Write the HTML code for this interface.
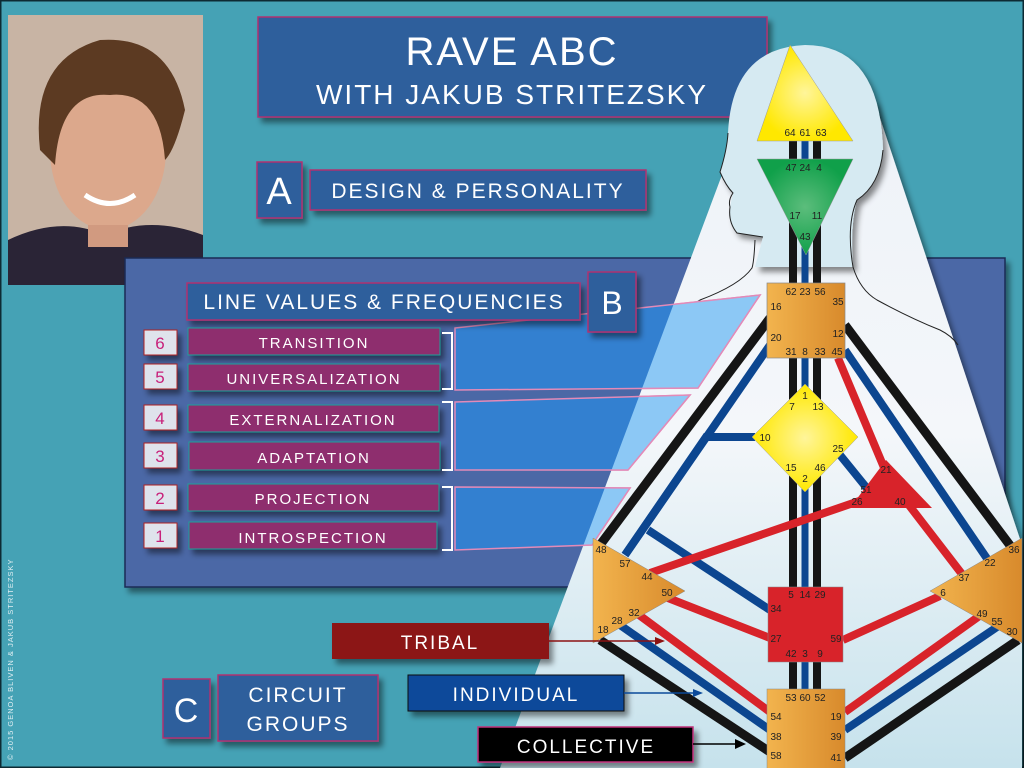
<!DOCTYPE html>
<html><head><meta charset="utf-8"><style>
html,body{margin:0;padding:0;background:#45a2b5;}
svg{display:block}
text{font-family:"Liberation Sans",sans-serif;}
</style></head><body>
<svg width="1024" height="768" viewBox="0 0 1024 768" xmlns="http://www.w3.org/2000/svg">
<defs>
<linearGradient id="bodyg" x1="0" y1="0" x2="0" y2="1"><stop offset="0" stop-color="#eef2f8"/><stop offset="0.5" stop-color="#f4f7fa"/><stop offset="1" stop-color="#c6e2ec"/></linearGradient>
<linearGradient id="org" x1="0" y1="0" x2="1" y2="0"><stop offset="0" stop-color="#f2b44e"/><stop offset="1" stop-color="#d88a2c"/></linearGradient>
<radialGradient id="yel"><stop offset="0" stop-color="#fff59a"/><stop offset="1" stop-color="#ffe800"/></radialGradient>
<radialGradient id="grn"><stop offset="0" stop-color="#5cbd7c"/><stop offset="1" stop-color="#10a04a"/></radialGradient>
<clipPath id="bodyclip"><polygon points="750,100 874,100 1022,545 1022,768 500,768"/></clipPath>
<filter id="sh" x="-10%" y="-10%" width="130%" height="140%"><feDropShadow dx="4" dy="5" stdDeviation="3" flood-color="#000" flood-opacity="0.45"/></filter>
</defs>
<rect width="1024" height="768" fill="#45a2b5"/>
<rect x="0.5" y="0.5" width="1023" height="767" fill="none" stroke="#0d2a33" stroke-width="2"/>

<!-- photo -->
<g>
<rect x="8" y="15" width="195" height="270" fill="#c8b4a4"/>
<path d="M8 240 Q60 215 105 235 Q150 215 203 235 L203 285 L8 285Z" fill="#2a2436"/>
<ellipse cx="108" cy="150" rx="58" ry="80" fill="#dca88c"/>
<path d="M40 150 Q30 60 100 40 Q170 35 185 110 Q175 150 165 160 Q160 90 110 95 Q60 90 55 165Z" fill="#5c3a22"/>
<rect x="88" y="225" width="40" height="22" fill="#d19a80"/>
<path d="M85 195 Q110 212 135 195" stroke="#fff" stroke-width="5" fill="none"/>
</g>

<!-- title -->
<g filter="url(#sh)">
<rect x="258" y="17" width="509" height="100" fill="#2d5e9c" stroke="#b03070" stroke-width="1.5"/>
</g>
<text x="512" y="65" text-anchor="middle" fill="#fff" font-size="40" letter-spacing="2">RAVE ABC</text>
<text x="512" y="104" text-anchor="middle" fill="#fff" font-size="28" letter-spacing="2">WITH JAKUB STRITEZSKY</text>

<g filter="url(#sh)">
<rect x="257" y="162" width="45" height="56" fill="#2d5e9c" stroke="#b03070" stroke-width="1.5"/>
<rect x="310" y="170" width="336" height="40" fill="#2d5e9c" stroke="#b03070" stroke-width="1.5"/>
</g>
<text x="279" y="204" text-anchor="middle" fill="#fff" font-size="38">A</text>
<text x="478" y="198" text-anchor="middle" fill="#fff" font-size="21" letter-spacing="2">DESIGN &amp; PERSONALITY</text>

<!-- big panel -->
<rect x="125" y="258" width="880" height="329" fill="#4b67a6" stroke="#1b2b55" stroke-width="1.5" filter="url(#sh)"/>

<!-- body silhouette -->
<polygon points="750,100 874,100 1022,545 1022,768 500,768" fill="url(#bodyg)" filter="url(#sh)"/>
<path d="M763,237 L737,233 Q728,222 730,207 L733,193 Q726,186 720,172 Q727,150 728,133 Q732,48 805,45 Q880,45 883,150 Q880,185 857,200 Q850,225 853,267 L755,267 Z" fill="#d6eaf2" filter="url(#sh)"/>
<g fill="none" stroke="#222" stroke-width="1">
<path d="M728,133 Q727,150 720,172 Q726,186 733,193 Q728,200 730,207 Q728,222 737,233 L763,237"/>
<path d="M755,240 Q754,262 752,268 Q740,285 700,300 Q670,318 650,333"/>
<path d="M883,150 Q880,185 857,200 Q846,225 853,267 Q860,290 877,300 Q910,318 940,330 Q952,336 958,345"/>
</g>

<!-- parallelograms -->
<g stroke="#e38ab8" stroke-width="1.5">
<polygon points="455,328 760,295 698,388 455,390" fill="#3380d0"/>
<polygon points="455,402 690,395 628,470 455,470" fill="#3380d0"/>
<polygon points="455,487 630,488 592,545 455,550" fill="#3380d0"/>
</g>
<g clip-path="url(#bodyclip)" stroke="#e38ab8" stroke-width="1.5" fill="#8cc8f5">
<polygon points="455,328 760,295 698,388 455,390"/>
<polygon points="455,402 690,395 628,470 455,470"/>
<polygon points="455,487 630,488 592,545 455,550"/>
</g>

<!-- channels -->
<g stroke-linecap="butt" fill="none">
<line x1="793" y1="140" x2="793" y2="700" stroke="#151515" stroke-width="8"/>
<line x1="817" y1="140" x2="817" y2="700" stroke="#151515" stroke-width="8"/>
<line x1="805" y1="140" x2="805" y2="700" stroke="#0c4690" stroke-width="7"/>
<line x1="770" y1="318" x2="600" y2="545" stroke="#151515" stroke-width="9"/>
<line x1="770" y1="345" x2="625" y2="555" stroke="#0c4690" stroke-width="8"/>
<polyline points="755,437 706,437 625,555" stroke="#0c4690" stroke-width="8"/>
<line x1="770" y1="610" x2="648" y2="530" stroke="#0c4690" stroke-width="8"/>
<line x1="845" y1="325" x2="1012" y2="548" stroke="#151515" stroke-width="9"/>
<line x1="845" y1="350" x2="988" y2="560" stroke="#0c4690" stroke-width="8"/>
<line x1="838" y1="358" x2="885" y2="470" stroke="#d8232a" stroke-width="8"/>
<line x1="840" y1="455" x2="870" y2="492" stroke="#0c4690" stroke-width="8"/>
<line x1="862" y1="500" x2="650" y2="573" stroke="#d8232a" stroke-width="8"/>
<line x1="905" y1="500" x2="965" y2="578" stroke="#d8232a" stroke-width="8"/>
<line x1="668" y1="598" x2="770" y2="638" stroke="#d8232a" stroke-width="8"/>
<line x1="940" y1="596" x2="843" y2="640" stroke="#d8232a" stroke-width="8"/>
<line x1="635" y1="612" x2="770" y2="712" stroke="#d8232a" stroke-width="8"/>
<line x1="620" y1="625" x2="770" y2="730" stroke="#0c4690" stroke-width="8"/>
<line x1="600" y1="640" x2="770" y2="752" stroke="#151515" stroke-width="9"/>
<line x1="985" y1="612" x2="845" y2="712" stroke="#d8232a" stroke-width="8"/>
<line x1="1000" y1="625" x2="845" y2="730" stroke="#0c4690" stroke-width="8"/>
<line x1="1018" y1="640" x2="845" y2="758" stroke="#151515" stroke-width="9"/>
</g>

<!-- centers -->
<g font-size="10" fill="#222" text-anchor="middle">
<polygon points="790,45 757,141 853,141" fill="url(#yel)" stroke="#999" stroke-width="0.5"/>
<text x="790" y="136">64</text><text x="805" y="136">61</text><text x="821" y="136">63</text>
<polygon points="757,159 853,159 806,255" fill="url(#grn)" stroke="#999" stroke-width="0.5"/>
<text x="791" y="171">47</text><text x="805" y="171">24</text><text x="819" y="171">4</text>
<text x="795" y="219">17</text><text x="817" y="219">11</text><text x="805" y="240">43</text>
<rect x="767" y="283" width="78" height="75" fill="url(#org)" stroke="#888" stroke-width="0.7"/>
<text x="791" y="295">62</text><text x="805" y="295">23</text><text x="820" y="295">56</text>
<text x="776" y="310">16</text><text x="838" y="305">35</text>
<text x="776" y="341">20</text><text x="838" y="337">12</text>
<text x="791" y="355">31</text><text x="805" y="355">8</text><text x="820" y="355">33</text><text x="837" y="355">45</text>
<polygon points="805,384 858,437 805,492 752,437" fill="url(#yel)" stroke="#999" stroke-width="0.5"/>
<text x="805" y="399">1</text><text x="792" y="410">7</text><text x="818" y="410">13</text>
<text x="765" y="441">10</text><text x="838" y="452">25</text>
<text x="791" y="471">15</text><text x="820" y="471">46</text><text x="805" y="482">2</text>
<polygon points="886,460 850,508 932,508" fill="#d8232a"/>
<text x="886" y="473">21</text><text x="866" y="493">51</text><text x="857" y="505">26</text><text x="900" y="505">40</text>
<polygon points="593,538 593,643 685,591" fill="url(#org)" stroke="#888" stroke-width="0.5"/>
<text x="601" y="553">48</text><text x="625" y="567">57</text><text x="647" y="580">44</text><text x="667" y="596">50</text>
<text x="634" y="616">32</text><text x="617" y="624">28</text><text x="603" y="633">18</text>
<polygon points="1022,538 1022,643 930,591" fill="url(#org)" stroke="#888" stroke-width="0.5"/>
<text x="1014" y="553">36</text><text x="990" y="566">22</text><text x="964" y="581">37</text><text x="943" y="596">6</text>
<text x="982" y="617">49</text><text x="997" y="625">55</text><text x="1012" y="635">30</text>
<rect x="768" y="587" width="75" height="75" fill="#d8232a" stroke="#888" stroke-width="0.5"/>
<text x="791" y="598">5</text><text x="805" y="598">14</text><text x="820" y="598">29</text>
<text x="776" y="612">34</text><text x="776" y="642">27</text><text x="836" y="642">59</text>
<text x="791" y="657">42</text><text x="805" y="657">3</text><text x="820" y="657">9</text>
<rect x="767" y="689" width="78" height="82" fill="url(#org)" stroke="#888" stroke-width="0.5"/>
<text x="791" y="701">53</text><text x="805" y="701">60</text><text x="820" y="701">52</text>
<text x="776" y="720">54</text><text x="836" y="720">19</text>
<text x="776" y="740">38</text><text x="836" y="740">39</text>
<text x="776" y="759">58</text><text x="836" y="761">41</text>
</g>

<!-- B header -->
<g filter="url(#sh)">
<rect x="187" y="283" width="393" height="37" fill="#2d5e9c" stroke="#b03070" stroke-width="1.5"/>
<rect x="588" y="272" width="48" height="60" fill="#2d5e9c" stroke="#b03070" stroke-width="1.5"/>
</g>
<text x="384" y="309" text-anchor="middle" fill="#fff" font-size="21" letter-spacing="2">LINE VALUES &amp; FREQUENCIES</text>
<text x="612" y="314" text-anchor="middle" fill="#fff" font-size="32">B</text>

<!-- list -->
<g filter="url(#sh)">
<rect x="144" y="330" width="33" height="25" fill="#dfe3ec" stroke="#b02020"/>
<rect x="144" y="364" width="33" height="25" fill="#dfe3ec" stroke="#b02020"/>
<rect x="144" y="405" width="33" height="25" fill="#dfe3ec" stroke="#b02020"/>
<rect x="144" y="443" width="33" height="25" fill="#dfe3ec" stroke="#b02020"/>
<rect x="144" y="485" width="33" height="25" fill="#dfe3ec" stroke="#b02020"/>
<rect x="144" y="523" width="33" height="25" fill="#dfe3ec" stroke="#b02020"/>
<g fill="#8e2f6e" stroke="#1fa39a" stroke-width="1">
<rect x="188" y="328" width="252" height="27"/>
<rect x="188" y="364" width="252" height="27"/>
<rect x="188" y="405" width="251" height="27"/>
<rect x="189" y="442" width="251" height="28"/>
<rect x="188" y="484" width="251" height="27"/>
<rect x="189" y="522" width="248" height="27"/>
</g>
</g>
<g font-size="17" fill="#c8207a" text-anchor="middle">
<text x="160" y="349">6</text><text x="160" y="383">5</text><text x="160" y="424">4</text>
<text x="160" y="462">3</text><text x="160" y="504">2</text><text x="160" y="542">1</text>
</g>
<g font-size="15" fill="#fff" text-anchor="middle" letter-spacing="2">
<text x="314" y="348">TRANSITION</text>
<text x="314" y="384">UNIVERSALIZATION</text>
<text x="313" y="425">EXTERNALIZATION</text>
<text x="314" y="463">ADAPTATION</text>
<text x="313" y="504">PROJECTION</text>
<text x="313" y="543">INTROSPECTION</text>
</g>
<g stroke="#fff" stroke-width="2" fill="none">
<polyline points="442,333 452,333 452,389 442,389"/>
<polyline points="442,402 452,402 452,470 442,470"/>
<polyline points="442,487 452,487 452,550 442,550"/>
</g>

<!-- circuit labels -->
<g filter="url(#sh)">
<rect x="332" y="623" width="217" height="36" fill="#8c1212"/>
<rect x="408" y="675" width="216" height="36" fill="#0b4a9a" stroke="#111"/>
<rect x="478" y="727" width="215" height="35" fill="#000" stroke="#c0307a" stroke-width="1.5"/>
<rect x="163" y="679" width="47" height="59" fill="#2d5e9c" stroke="#b03070" stroke-width="1.5"/>
<rect x="218" y="675" width="160" height="66" fill="#2d5e9c" stroke="#b03070" stroke-width="1.5"/>
</g>
<g stroke-width="1.5" fill="none">
<line x1="549" y1="641" x2="662" y2="641" stroke="#8c1212"/><polygon points="665,641 655,637 655,645" fill="#8c1212"/>
<line x1="624" y1="693" x2="700" y2="693" stroke="#0b4a9a"/><polygon points="703,693 693,689 693,697" fill="#0b4a9a"/>
<line x1="693" y1="744" x2="742" y2="744" stroke="#000"/><polygon points="746,744 735,739 735,749" fill="#000"/>
</g>
<g fill="#fff" text-anchor="middle" letter-spacing="2">
<text x="440" y="649" font-size="19">TRIBAL</text>
<text x="516" y="701" font-size="19">INDIVIDUAL</text>
<text x="586" y="753" font-size="19">COLLECTIVE</text>
<text x="186" y="722" font-size="34" letter-spacing="0">C</text>
<text x="298" y="702" font-size="21">CIRCUIT</text>
<text x="298" y="731" font-size="21">GROUPS</text>
</g>
<text transform="translate(13,760) rotate(-90)" font-size="7.5" fill="#e0eef2" letter-spacing="1">© 2015 GENOA BLIVEN &amp; JAKUB STRITEZSKY</text>
</svg>
</body></html>
